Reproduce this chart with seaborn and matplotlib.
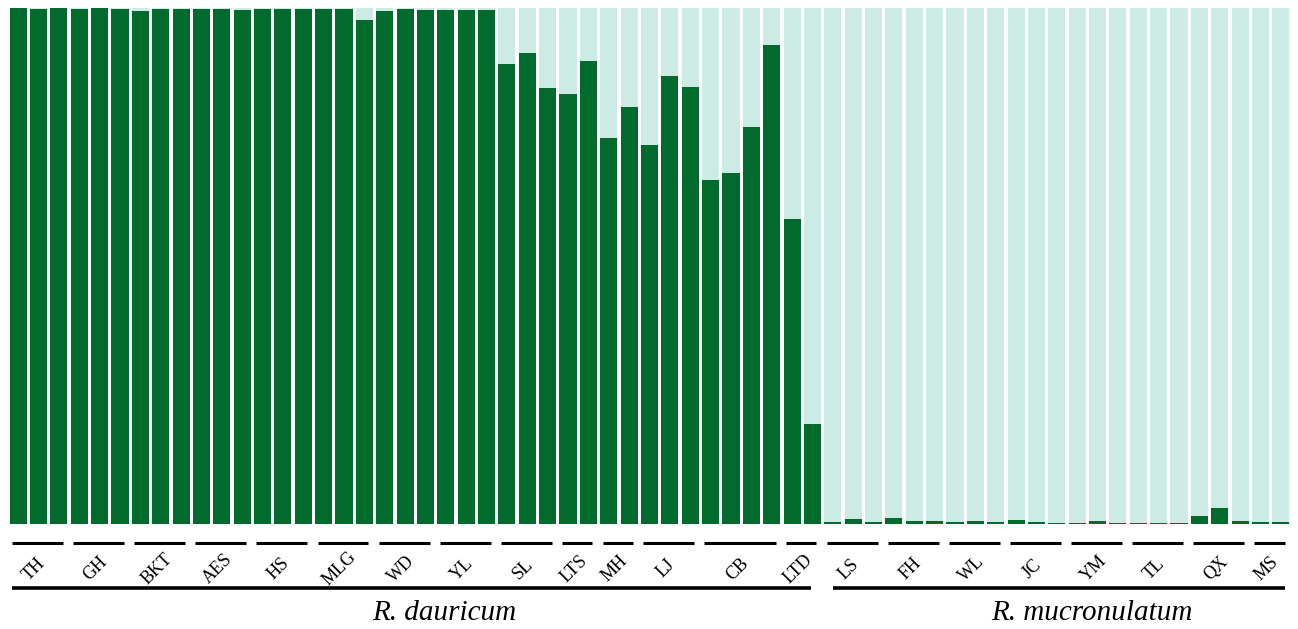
import numpy as np
import pandas as pd
import matplotlib
matplotlib.use("Agg")
import matplotlib.pyplot as plt
import matplotlib.transforms as mtransforms
import seaborn as sns

# ---------------- data ----------------
groups = ["TH", "GH", "BKT", "AES", "HS", "MLG", "WD", "YL", "SL", "LTS", "MH",
          "LJ", "CB", "LTD",
          "LS", "FH", "WL", "JC", "YM", "TL", "QX", "MS"]
group_sizes = [3, 3, 3, 3, 3, 3, 3, 3, 3, 2, 2, 3, 4, 2,
               3, 3, 3, 3, 3, 3, 3, 2]
species = ["R. dauricum", "R. mucronulatum"]
species_groups = [14, 8]  # number of populations per species

# ancestry proportion of cluster 1 (dark green) per individual
q_dark = [1.000, 0.999, 1.000, 0.998, 1.000, 0.999,
          0.995, 0.998, 0.999, 0.998, 0.998, 0.996,
          0.999, 0.998, 0.998, 0.998, 0.998, 0.977,
          0.995, 0.998, 0.996, 0.997, 0.997, 0.996,
          0.892, 0.912, 0.844,
          0.834, 0.898,
          0.749, 0.809,
          0.735, 0.869, 0.846,
          0.666, 0.681, 0.770, 0.929,
          0.592, 0.193,
          0.004, 0.009, 0.004,
          0.011, 0.005, 0.005,
          0.003, 0.005, 0.003,
          0.008, 0.004, 0.002,
          0.001, 0.005, 0.002,
          0.002, 0.001, 0.001,
          0.015, 0.031, 0.005,
          0.003, 0.003]

dark_color = "#006B2C"
light_color = "#CDEBE5"

# ---------------- build table ----------------
n = len(q_dark)
ind = [f"i{k:02d}" for k in range(n)]
df = pd.DataFrame({"ind": ind, "dark": q_dark})
df["total"] = 1.0

sns.set_theme(style="white")
plt.rcParams["font.family"] = ["Liberation Serif", "DejaVu Serif"]

fig = plt.figure(figsize=(12.98, 6.29), dpi=100)
ax = fig.add_axes([8 / 1298, 1 - 524 / 629, 1283 / 1298, 516 / 629])

sns.barplot(data=df, x="ind", y="total", color=light_color, width=0.84,
            saturation=1, ax=ax, order=ind, linewidth=0)
sns.barplot(data=df, x="ind", y="dark", color=dark_color, width=0.84,
            saturation=1, ax=ax, order=ind, linewidth=0)

ax.set_xlim(-0.5, n - 0.5)
ax.set_ylim(0, 1.0)
ax.set_xticks([])
ax.set_yticks([])
ax.set_xlabel("")
ax.set_ylabel("")
for s in ax.spines.values():
    s.set_visible(False)

trans = mtransforms.blended_transform_factory(ax.transData, ax.transAxes)

# population segments and labels
starts = np.concatenate([[0], np.cumsum(group_sizes)[:-1]])
for g, st, sz in zip(groups, starts, group_sizes):
    x0 = st - 0.5 + 0.2
    x1 = st + sz - 0.5 - 0.3
    ax.plot([x0, x1], [-0.037, -0.037], color="black", lw=2.2,
            transform=trans, clip_on=False, solid_capstyle="butt")
    xc = st + (sz - 1) / 2 - 0.2
    ax.text(xc, -0.087, g, rotation=45, ha="center", va="center",
            fontsize=13, transform=trans, color="black")

# species lines and labels
pop_starts = np.concatenate([[0], np.cumsum(species_groups)[:-1]])
for sp, ps, pn in zip(species, pop_starts, species_groups):
    first = starts[ps]
    last = starts[ps + pn - 1] + group_sizes[ps + pn - 1] - 1
    x0 = first - 0.3 + (0.3 if ps > 0 else 0)
    x1 = last + 0.2 - (0.25 if ps == 0 else 0)
    ax.plot([x0, x1], [-0.124, -0.124], color="black", lw=2.6,
            transform=trans, clip_on=False, solid_capstyle="butt")
    ax.text((x0 + x1) / 2 + 1.6, -0.173, sp, ha="center", va="center",
            fontsize=21, style="italic", transform=trans, color="black")

fig.savefig("out.png", dpi=100, facecolor="white")
